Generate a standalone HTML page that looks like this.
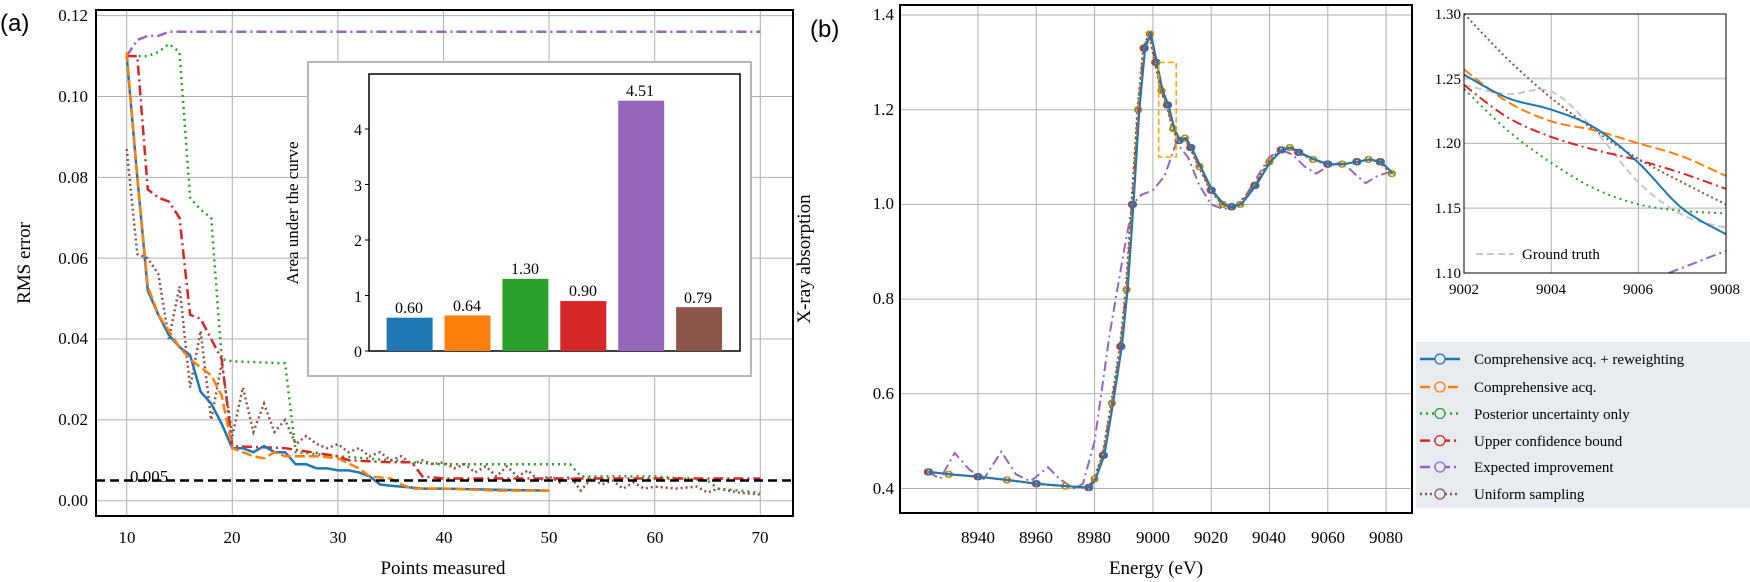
<!DOCTYPE html>
<html><head><meta charset="utf-8">
<style>
html,body{margin:0;padding:0;background:#fff;}
svg{display:block;font-family:"Liberation Serif",serif;}
</style></head>
<body>
<svg id="s" width="1750" height="582" viewBox="0 0 1750 582" xmlns="http://www.w3.org/2000/svg">
<g id="g"></g>
<text x="0" y="31" font-family="Liberation Sans, sans-serif" font-size="24">(a)</text>
<text x="810" y="37" font-family="Liberation Sans, sans-serif" font-size="24">(b)</text>
<g font-size="17" text-anchor="end">
<text x="88" y="21">0.12</text><text x="88" y="102">0.10</text><text x="88" y="183">0.08</text>
<text x="88" y="264">0.06</text><text x="88" y="344">0.04</text><text x="88" y="425">0.02</text><text x="88" y="506">0.00</text>
</g>
<g font-size="17" text-anchor="middle">
<text x="127" y="543">10</text><text x="232" y="543">20</text><text x="338" y="543">30</text>
<text x="444" y="543">40</text><text x="549" y="543">50</text><text x="655" y="543">60</text><text x="760" y="543">70</text>
</g>
<text x="443" y="574" font-size="19" text-anchor="middle">Points measured</text>
<text transform="translate(30,263) rotate(-90)" font-size="19" text-anchor="middle">RMS error</text>
<text x="130" y="482" font-size="17">0.005</text>
<g font-size="16" text-anchor="end">
<text x="362" y="357">0</text><text x="362" y="302">1</text><text x="362" y="246">2</text><text x="362" y="191">3</text><text x="362" y="135">4</text>
</g>
<text transform="translate(298,213) rotate(-90)" font-size="17" text-anchor="middle">Area under the curve</text>
<g font-size="16" text-anchor="middle">
<text x="409" y="313">0.60</text><text x="467" y="311">0.64</text><text x="525" y="274">1.30</text>
<text x="583" y="296">0.90</text><text x="640" y="96">4.51</text><text x="698" y="303">0.79</text>
</g>
<g font-size="17" text-anchor="end">
<text x="894" y="20">1.4</text><text x="894" y="115">1.2</text><text x="894" y="209">1.0</text>
<text x="894" y="304">0.8</text><text x="894" y="399">0.6</text><text x="894" y="494">0.4</text>
</g>
<g font-size="17" text-anchor="middle">
<text x="978" y="543">8940</text><text x="1036" y="543">8960</text><text x="1094" y="543">8980</text><text x="1153" y="543">9000</text>
<text x="1211" y="543">9020</text><text x="1269" y="543">9040</text><text x="1328" y="543">9060</text><text x="1386" y="543">9080</text>
</g>
<text x="1156" y="574" font-size="19" text-anchor="middle">Energy (eV)</text>
<text transform="translate(810,259) rotate(-90)" font-size="19" text-anchor="middle">X-ray absorption</text>
<g font-size="15" text-anchor="end">
<text x="1461" y="19">1.30</text><text x="1461" y="84">1.25</text><text x="1461" y="148">1.20</text>
<text x="1461" y="213">1.15</text><text x="1461" y="278">1.10</text>
</g>
<g font-size="15" text-anchor="middle">
<text x="1464" y="294">9002</text><text x="1551" y="294">9004</text><text x="1638" y="294">9006</text><text x="1725" y="294">9008</text>
</g>
<line x1="1476" y1="254" x2="1514" y2="254" stroke="#c8c8c8" stroke-width="2" stroke-dasharray="7,4"/>
<text x="1522" y="259" font-size="15">Ground truth</text>
<g font-size="15">
<text x="1474" y="364">Comprehensive acq. + reweighting</text>
<text x="1474" y="392">Comprehensive acq.</text>
<text x="1474" y="419">Posterior uncertainty only</text>
<text x="1474" y="446">Upper confidence bound</text>
<text x="1474" y="472">Expected improvement</text>
<text x="1474" y="499">Uniform sampling</text>
</g>
</svg>
<script>
var g=document.getElementById('g');var NS='http://www.w3.org/2000/svg';
function el(t,a){var e=document.createElementNS(NS,t);for(var k in a)e.setAttribute(k,a[k]);g.appendChild(e);return e;}
var C={b:'#1f77b4',o:'#ff7f0e',g:'#2ca02c',r:'#d62728',p:'#9467bd',br:'#8c564b'};
var DS={b:'',o:'10,4',g:'2,4',r:'10,4,2,4',p:'10,4,2,4',br:'2,3'};
function ax(x){return 126.7+(x-10)*10.56;} function ay(y){return 500.7-y*4042;}
el('rect',{x:96,y:10,width:697,height:506,fill:'#fff'});
[10,20,30,40,50,60,70].forEach(function(v){el('line',{x1:ax(v),x2:ax(v),y1:10,y2:516,stroke:'#b0b0b0','stroke-width':1});});
[0,.02,.04,.06,.08,.1,.12].forEach(function(v){el('line',{x1:96,x2:793,y1:ay(v),y2:ay(v),stroke:'#b0b0b0','stroke-width':1});});
var A={
p:[[10,.110],[11,.114],[12,.115],[13,.115],[14,.116],[70,.116]],
g:[[10,.110],[11,.110],[12,.110],[13,.111],[14,.113],[15,.111],[16,.075],[17,.072],[18,.070],[19,.035],[20,.0345],[25,.034],[26,.012],[30,.011],[35,.010],[37,.0095],[40,.009],[45,.009],[52,.009],[53,.006],[60,.006],[65,.005],[66,.003],[70,.002]],
r:[[10,.110],[11,.110],[12,.077],[13,.075],[14,.074],[15,.070],[16,.046],[17,.045],[18,.040],[19,.035],[20,.0135],[25,.013],[30,.011],[31,.010],[35,.0095],[37,.0095],[38,.006],[40,.0055],[50,.0055],[70,.0055]],
br:[[10,.087],[11,.061],[12,.060],[13,.056],[14,.040],[15,.053],[16,.028],[17,.042],[18,.020],[19,.034],[20,.016],[21,.028],[22,.017],[23,.024],[24,.017],[25,.020],[26,.014],[27,.016],[28,.014],[29,.013],[30,.014],[31,.012],[32,.013],[33,.011],[34,.012],[35,.010],[36,.011],[37,.009],[38,.010],[39,.009],[40,.0095],[41,.008],[42,.009],[43,.007],[44,.0085],[45,.006],[46,.0085],[47,.006],[48,.0075],[49,.005],[50,.006],[51,.0045],[52,.006],[53,.0025],[54,.0055],[55,.004],[56,.005],[57,.003],[58,.0045],[59,.003],[60,.0035],[62,.003],[64,.0035],[65,.002],[66,.003],[68,.002],[70,.0015]],
o:[[10,.111],[11,.08],[12,.053],[13,.046],[14,.042],[15,.038],[16,.035],[17,.033],[18,.031],[19,.026],[20,.013],[21,.012],[22,.011],[23,.0105],[24,.012],[25,.011],[26,.011],[28,.011],[30,.0105],[32,.008],[33,.006],[35,.0055],[36,.004],[37,.003],[40,.003],[45,.0025],[50,.0025]],
b:[[10,.110],[11,.080],[12,.052],[13,.046],[14,.041],[15,.038],[16,.036],[17,.027],[18,.024],[19,.019],[20,.013],[21,.013],[22,.012],[23,.0135],[24,.012],[25,.012],[26,.009],[27,.009],[28,.008],[29,.008],[30,.0075],[31,.0075],[32,.007],[33,.006],[34,.004],[35,.0037],[36,.0035],[38,.003],[40,.003],[45,.0027],[50,.0025]]};
function pts(a,fx,fy){return a.map(function(p){return fx(p[0]).toFixed(1)+','+fy(p[1]).toFixed(1);}).join(' ');}
['p','g','r','br','b','o'].forEach(function(k){el('polyline',{points:pts(A[k],ax,ay),fill:'none',stroke:C[k],'stroke-width':2.5,'stroke-dasharray':DS[k]});});
el('line',{x1:96,x2:793,y1:ay(.005),y2:ay(.005),stroke:'#000','stroke-width':2.5,'stroke-dasharray':'9,5'});
el('rect',{x:96,y:10,width:697,height:506,fill:'none',stroke:'#000','stroke-width':2});
el('rect',{x:308,y:62,width:443,height:314,fill:'#fff',stroke:'#b8b8b8','stroke-width':2});
el('rect',{x:369,y:74,width:371,height:277,fill:'#fff',stroke:'#000','stroke-width':1.5});
var bars=[.60,.64,1.30,.90,4.51,.79],bc=['b','o','g','r','p','br'];
bars.forEach(function(v,i){var x=386.6+i*57.9;el('rect',{x:x,y:351-v*55.5,width:46,height:v*55.5,fill:C[bc[i]]});});
[0,1,2,3,4].forEach(function(v){el('line',{x1:365,x2:369,y1:351-v*55.5,y2:351-v*55.5,stroke:'#000'});});
function bx(x){return 978+(x-8940)*2.915;} function by(y){return 488.5-(y-0.4)*473.5;}
[8940,8960,8980,9000,9020,9040,9060,9080].forEach(function(v){el('line',{x1:bx(v),x2:bx(v),y1:5,y2:513,stroke:'#b0b0b0'});});
[.4,.6,.8,1,1.2,1.4].forEach(function(v){el('line',{x1:900,x2:1412,y1:by(v),y2:by(v),stroke:'#b0b0b0'});});
var M=[[8923,.435],[8930,.43],[8940,.425],[8950,.418],[8960,.41],[8970,.405],[8978,.402],[8980,.42],[8983,.47],[8986,.58],[8989,.70],[8991,.82],[8993,1.0],[8995,1.2],[8997,1.33],[8999,1.36],[9001,1.30],[9003,1.24],[9005,1.21],[9007,1.16],[9009,1.135],[9011,1.14],[9013,1.12],[9016,1.08],[9020,1.03],[9024,1.0],[9027,.995],[9030,1.0],[9035,1.04],[9040,1.09],[9044,1.115],[9047,1.12],[9050,1.11],[9055,1.095],[9060,1.085],[9065,1.085],[9070,1.09],[9074,1.095],[9078,1.09],[9082,1.065]];
var P=[[8923,.435],[8927,.42],[8932,.475],[8937,.44],[8942,.42],[8948,.478],[8953,.43],[8958,.415],[8964,.445],[8968,.42],[8973,.40],[8976,.41],[8980,.50],[8985,.72],[8990,.90],[8993,1.0],[8996,1.02],[9000,1.03],[9004,1.06],[9008,1.13],[9012,1.10],[9016,1.04],[9020,1.0],[9024,.99],[9028,.995],[9032,1.02],[9036,1.06],[9040,1.10],[9044,1.115],[9048,1.105],[9052,1.08],[9056,1.065],[9060,1.08],[9065,1.09],[9070,1.06],[9073,1.045],[9077,1.06],[9082,1.07]];
el('polyline',{points:pts(P,bx,by),fill:'none',stroke:C.p,'stroke-width':2,'stroke-dasharray':DS.p});
['br','g','r','o','b'].forEach(function(k,i){var off=(i-2)*0.6;var a=M.map(function(p){return [p[0]+off*0.3,p[1]];});
el('polyline',{points:pts(a,bx,by),fill:'none',stroke:C[k],'stroke-width':2,'stroke-dasharray':DS[k]});
a.forEach(function(p,j){if(j%2==i%2)el('circle',{cx:bx(p[0]),cy:by(p[1]),r:3,fill:'none',stroke:C[k],'stroke-width':1.2});});});
el('rect',{x:bx(9002),y:by(1.3),width:bx(9008)-bx(9002),height:by(1.1)-by(1.3),fill:'none',stroke:'#ffa500','stroke-width':1.5,'stroke-dasharray':'6,3'});
el('rect',{x:900,y:5,width:512,height:508,fill:'none',stroke:'#000','stroke-width':2});
function ix(x){return 1464+(x-9002)*43.6;} function iy(y){return 13.7+(1.3-y)*1296.5;}
[9004,9006].forEach(function(v){el('line',{x1:ix(v),x2:ix(v),y1:14,y2:273,stroke:'#b0b0b0'});});
[1.15,1.2].forEach(function(v){el('line',{x1:1464,x2:1726,y1:iy(v),y2:iy(v),stroke:'#b0b0b0'});});
el('line',{x1:1464,x2:1726,y1:iy(1.25),y2:iy(1.25),stroke:'#d0d0d0','stroke-width':2});
var I={gt:[[9002,1.245],[9003,1.238],[9004,1.24],[9005,1.21],[9006,1.17],[9007,1.145],[9008,1.135]],
b:[[9002,1.253],[9003,1.235],[9004,1.226],[9005,1.212],[9006,1.185],[9007,1.15],[9008,1.13]],
o:[[9002,1.257],[9003,1.232],[9004,1.217],[9005,1.21],[9006,1.2],[9007,1.19],[9008,1.175]],
r:[[9002,1.245],[9003,1.22],[9004,1.205],[9005,1.195],[9006,1.187],[9007,1.177],[9008,1.165]],
g:[[9002,1.242],[9003,1.21],[9004,1.185],[9005,1.165],[9006,1.153],[9007,1.148],[9008,1.146]],
br:[[9002,1.30],[9003,1.265],[9004,1.235],[9005,1.21],[9006,1.188],[9007,1.17],[9008,1.153]],
p:[[9006.7,1.10],[9008,1.117]]};
function smooth(a,fx,fy){var out=[];for(var i=0;i<a.length-1;i++){var p0=a[Math.max(0,i-1)],p1=a[i],p2=a[i+1],p3=a[Math.min(a.length-1,i+2)];for(var t=0;t<1;t+=0.1){var t2=t*t,t3=t2*t;var f=function(k){return 0.5*((2*p1[k])+(-p0[k]+p2[k])*t+(2*p0[k]-5*p1[k]+4*p2[k]-p3[k])*t2+(-p0[k]+3*p1[k]-3*p2[k]+p3[k])*t3);};out.push([f(0),f(1)]);}}out.push(a[a.length-1]);return pts(out,fx,fy);}
el('polyline',{points:smooth(I.gt,ix,iy),fill:'none',stroke:'#c8c8c8','stroke-width':2,'stroke-dasharray':'7,4'});
['g','r','br','o','b','p'].forEach(function(k){el('polyline',{points:smooth(I[k],ix,iy),fill:'none',stroke:C[k],'stroke-width':2,'stroke-dasharray':DS[k]});});
el('rect',{x:1464,y:14,width:262,height:259,fill:'none',stroke:'#000','stroke-width':1});
el('rect',{x:1416,y:342,width:334,height:166,fill:'#e8ebf0'});
['b','o','g','r','p','br'].forEach(function(k,i){var y=[359,387,413.5,440.6,467,494][i];
el('line',{x1:1420,x2:1460,y1:y,y2:y,stroke:C[k],'stroke-width':2.5,'stroke-dasharray':DS[k]});
el('circle',{cx:1440,cy:y,r:5,fill:'#e8ebf0',stroke:C[k],'stroke-width':1.3});});
</script>
</body></html>
